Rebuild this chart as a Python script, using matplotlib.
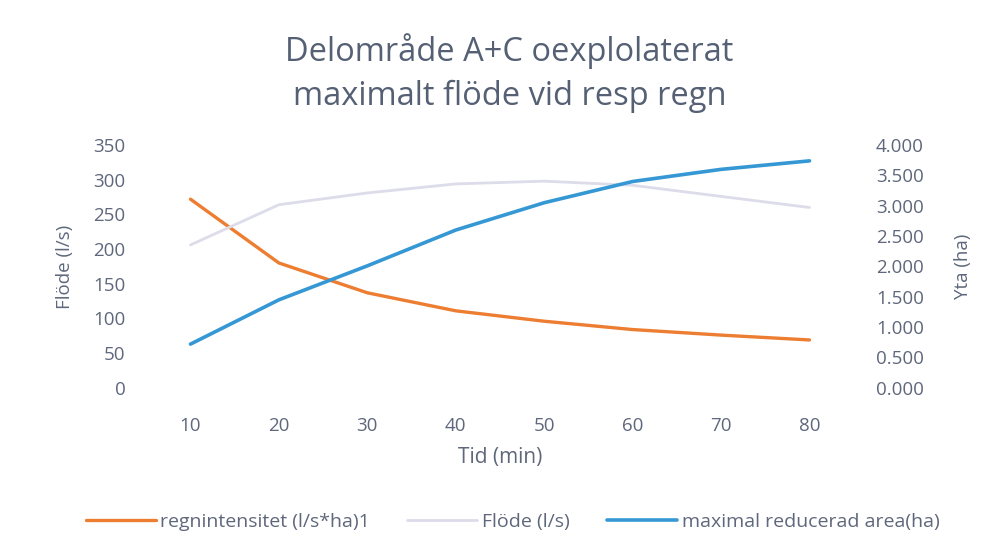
import matplotlib.pyplot as plt
import numpy as np

# data
tid = [10, 20, 30, 40, 50, 60, 70, 80]
regnintensitet = [272, 180, 137, 111, 96, 84, 76, 69]
flode = [206, 264, 281, 294, 298, 292, 276, 260]
reducerad_area = [0.72, 1.45, 2.01, 2.60, 3.05, 3.40, 3.60, 3.74]

left_ticks = [0, 50, 100, 150, 200, 250, 300, 350]
right_ticks = [0, 0.5, 1.0, 1.5, 2.0, 2.5, 3.0, 3.5, 4.0]

plt.rcParams['font.family'] = ['Open Sans', 'DejaVu Sans']
text_col = '#5e677b'

fig = plt.figure(figsize=(9.95, 5.58), dpi=100)
ax = fig.add_axes([0.147, 0.305, 0.711, 0.435])
ax2 = ax.twinx()

x = np.arange(len(tid))
l1, = ax.plot(x, regnintensitet, color='#ed7d31', lw=2.4, solid_capstyle='round',
              label='regnintensitet (l/s*ha)1')
l2, = ax.plot(x, flode, color='#dcdcea', lw=2.0, solid_capstyle='round',
              label='Flöde (l/s)')
l3, = ax2.plot(x, reducerad_area, color='#3598d4', lw=2.6, solid_capstyle='round',
               label='maximal reducerad area(ha)')

ax.set_xlim(-0.5, len(tid) - 0.5)
ax.set_ylim(0, 350)
ax2.set_ylim(0, 4.0)
ax.set_yticks(left_ticks)
ax2.set_yticks(right_ticks)
ax2.set_yticklabels(['%.3f' % v for v in right_ticks])
ax.set_xticks(x)
ax.set_xticklabels([str(t) for t in tid])

for a in (ax, ax2):
    for s in a.spines.values():
        s.set_visible(False)
    a.tick_params(length=0, labelsize=13.5, colors=text_col)
ax.tick_params(axis='x', pad=21)
ax.tick_params(axis='y', pad=15)
ax2.tick_params(axis='y', pad=16)

ax.set_xlabel('Tid (min)', fontsize=15, color=text_col, labelpad=9)
ax.set_ylabel('Flöde (l/s)', fontsize=13.5, color=text_col, labelpad=14)
ax2.set_ylabel('Yta (ha)', fontsize=13.5, color=text_col, labelpad=22)

fig.text(0.512, 0.869, 'Delområde A+C oexplolaterat\nmaximalt flöde vid resp regn',
         ha='center', va='center', fontsize=23.5, color='#556075', linespacing=1.45)

fig.legend(handles=[l1, l2, l3], loc='center', bbox_to_anchor=(0.515, 0.065),
           ncol=3, frameon=False, fontsize=14, labelcolor=text_col,
           handlelength=3.6, handletextpad=0.25, columnspacing=1.9)

fig.savefig('out.png', dpi=100)
